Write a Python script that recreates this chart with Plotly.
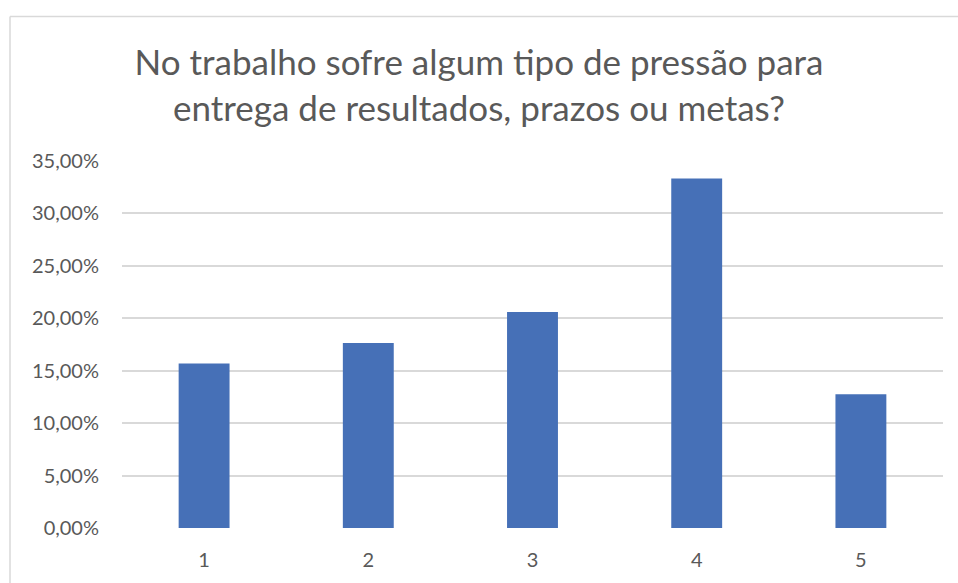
import plotly.graph_objects as go

categories = ["1", "2", "3", "4", "5"]
values = [0.1569, 0.1765, 0.2059, 0.3333, 0.1275]
tick_vals = [0, 0.05, 0.10, 0.15, 0.20, 0.25, 0.30, 0.35]

W, H = 958, 583
ML, MR, MT, MB = 122, 15, 161, 51
pw = W - ML - MR
ph = H - MT - MB

fig = go.Figure(go.Bar(
    x=categories, y=values,
    marker=dict(color="#4670b7", line=dict(width=0)),
    width=0.31,
))

# chart border (left/top light gray lines)
bx = (10 - ML) / pw
by = 1 + (MT - 15) / ph
fig.add_shape(type="line", xref="paper", yref="paper", x0=bx, x1=bx, y0=by, y1=-MB / ph - 0.1,
              line=dict(color="#d9d9d9", width=1.5))
fig.add_shape(type="line", xref="paper", yref="paper", x0=bx, x1=1 + MR / pw + 0.1, y0=by, y1=by,
              line=dict(color="#d9d9d9", width=1.5))

fig.update_layout(
    width=W, height=H,
    margin=dict(l=ML, r=MR, t=MT, b=MB),
    paper_bgcolor="white", plot_bgcolor="white",
    separators=",.",
    showlegend=False,
    font=dict(family="Lato", color="#595959"),
    title=dict(
        text="No trabalho sofre algum tipo de pressão para<br>entrega de resultados, prazos ou metas?",
        x=0.5, xanchor="center", xref="container",
        y=1 - 75 / H, yanchor="middle", yref="container",
        font=dict(family="Lato", size=35, color="#595959"),
    ),
    xaxis=dict(
        type="category", showgrid=False, showline=False, zeroline=False,
        ticks="", tickfont=dict(size=20, color="#595959"), ticklabelstandoff=18,
    ),
    yaxis=dict(
        range=[0, 0.35], tickvals=tick_vals, tickformat=".2%",
        showgrid=True, gridcolor="#d9d9d9", gridwidth=1.5,
        zeroline=False, showline=False, ticks="",
        tickfont=dict(size=20, color="#595959"), ticklabelstandoff=22,
    ),
)

fig.write_html("out.html")
